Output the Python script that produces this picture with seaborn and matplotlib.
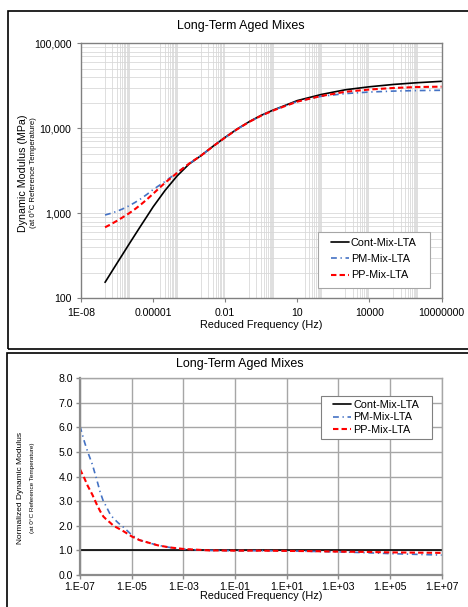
import matplotlib
matplotlib.use('Agg')
import matplotlib.pyplot as plt
from matplotlib.patches import Rectangle
from matplotlib.ticker import FixedLocator, NullFormatter
import seaborn as sns

# series names
series = ['Cont-Mix-LTA', 'PM-Mix-LTA', 'PP-Mix-LTA']

# dynamic modulus master curves (Hz, MPa)
freq_top = [1e-7, 1.78e-7, 3.16e-7, 5.62e-7, 1e-6, 1.78e-6, 3.16e-6, 5.62e-6, 1e-5,
            3.16e-5, 1e-4, 3.16e-4, 1e-3, 3.16e-3, 1e-2, 3.16e-2, 0.1, 0.316, 1,
            3.16, 10, 100, 1e3, 1e4, 1e5, 1e6, 1e7]
cont_mod = [154, 200, 259, 335, 434, 560, 721, 925, 1190,
            1862, 2754, 3802, 4786, 6166, 7834, 9817, 11967, 14223, 16406,
            18621, 21184, 25000, 28400, 30800, 32800, 34400, 35700]
pm_mod = [955, 1000, 1057, 1132, 1225, 1343, 1489, 1675, 1901,
          2371, 3020, 3846, 4786, 6150, 7820, 9780, 11900, 14100, 16300,
          18400, 20700, 23800, 25600, 26700, 27400, 27800, 28000]
pp_mod = [684, 745, 817, 902, 1000, 1122, 1274, 1462, 1698,
          2291, 2985, 3846, 4786, 6150, 7800, 9750, 11900, 14100, 16200,
          18300, 20600, 24000, 26900, 28600, 29800, 30600, 30900]

# normalized modulus (bottom chart)
freq_bot = [1e-7, 1.5e-7, 2e-7, 3e-7, 4.5e-7, 6e-7, 8e-7, 1e-6, 1.5e-6, 2e-6,
            3e-6, 5e-6, 1e-5, 2e-5, 5e-5, 1e-4, 3e-4, 1e-3, 1e-2, 1e-1, 1,
            10, 100, 1e3, 1e4, 1e5, 1e6, 1e7]
pm_norm = [6.05, 5.4, 5.0, 4.5, 3.86, 3.38, 3.0, 2.82, 2.45, 2.3,
           2.12, 1.93, 1.63, 1.42, 1.3, 1.21, 1.12, 1.05, 1.0, 0.99, 0.99,
           0.98, 0.96, 0.94, 0.91, 0.87, 0.84, 0.81]
pp_norm = [4.3, 3.92, 3.62, 3.27, 2.86, 2.6, 2.38, 2.28, 2.12, 2.0,
           1.9, 1.77, 1.57, 1.42, 1.3, 1.21, 1.12, 1.06, 1.0, 0.99, 0.99,
           0.98, 0.97, 0.95, 0.94, 0.92, 0.91, 0.9]
cont_norm_freq = [1e-7, 1e7]
cont_norm = [1.0, 1.0]

# tick labels
top_xticks = [1e-8, 1e-5, 1e-2, 10, 1e4, 1e7]
top_xlabels = ['1E-08', '0.00001', '0.01', '10', '10000', '10000000']
top_yticks = [100, 1000, 10000, 100000]
top_ylabels = ['100', '1,000', '10,000', '100,000']
bot_xticks = [1e-7, 1e-5, 1e-3, 1e-1, 10, 1e3, 1e5, 1e7]
bot_xlabels = ['1.E-07', '1.E-05', '1.E-03', '1.E-01', '1.E+01', '1.E+03', '1.E+05', '1.E+07']
bot_yticks = [0, 1, 2, 3, 4, 5, 6, 7, 8]
bot_ylabels = ['0.0', '1.0', '2.0', '3.0', '4.0', '5.0', '6.0', '7.0', '8.0']

sns.set_theme(style='white')
plt.rcParams['font.family'] = ['Liberation Sans', 'DejaVu Sans']
plt.rcParams['text.color'] = 'black'

W, H = 468, 607
fig = plt.figure(figsize=(W / 100, H / 100), dpi=100)
fig.patch.set_facecolor('white')


def box(l, t, r, b):
    return [l / W, 1 - b / H, (r - l) / W, (b - t) / H]


def ftext(x, y, s, **kw):
    fig.text(x / W, 1 - y / H, s, ha='center', va='center', **kw)


# panel frames
for (l, t, b) in [(8, 11, 348.5), (6.7, 353, 640)]:
    fig.add_artist(Rectangle((l / W, 1 - b / H), (490 - l) / W, (b - t) / H,
                             transform=fig.transFigure, fill=False,
                             ec='black', lw=1.2, clip_on=False))

styles = {
    'Cont-Mix-LTA': dict(color='black', lw=1.2, linestyle='-'),
    'PM-Mix-LTA': dict(color='#4472c4', lw=1.2, linestyle=(0, (3.5, 2.2, 0.8, 2.2))),
    'PP-Mix-LTA': dict(color='#ff0000', lw=1.5, linestyle=(0, (2.6, 1.5))),
}


def legend_box(ax, l, t, r, b, handle_x, mid_y, spacing, ec):
    # white framed box, then a frameless legend inside it
    ax.add_patch(Rectangle((l / W, 1 - b / H), (r - l) / W, (b - t) / H,
                           transform=fig.transFigure, fc='white', ec=ec,
                           lw=0.8, zorder=4, clip_on=False))
    leg = ax.legend(loc='center left', bbox_to_anchor=(handle_x / W, 1 - mid_y / H),
                    bbox_transform=fig.transFigure, fontsize=7.8, frameon=False,
                    handlelength=1.66, handletextpad=0.18, labelspacing=spacing,
                    borderpad=0, borderaxespad=0)
    leg.set_zorder(5)


# ---------------- top chart ----------------
ax1 = fig.add_axes(box(81, 43.3, 441.5, 298.3))
ax1.set_xscale('log')
ax1.set_yscale('log')
for name, vals in zip(series, [cont_mod, pm_mod, pp_mod]):
    sns.lineplot(x=freq_top, y=vals, ax=ax1, label=name, **styles[name])
ax1.set_xlim(1e-8, 1e7)
ax1.set_ylim(100, 100000)

ax1.xaxis.set_major_locator(FixedLocator(top_xticks))
ax1.set_xticklabels(top_xlabels)
ax1.yaxis.set_major_locator(FixedLocator(top_yticks))
ax1.set_yticklabels(top_ylabels)
vgrid = [k * 10.0 ** n for n in (-7, -5, -3, -1, 1, 3, 5) for k in range(1, 11)]
hgrid = [k * 10.0 ** n for n in (2, 3, 4) for k in range(1, 10)]
ax1.xaxis.set_minor_locator(FixedLocator(vgrid))
ax1.yaxis.set_minor_locator(FixedLocator(hgrid))
ax1.xaxis.set_minor_formatter(NullFormatter())
ax1.yaxis.set_minor_formatter(NullFormatter())
ax1.grid(which='minor', color='#d9d9d9', lw=0.6)
ax1.grid(which='major', axis='y', color='#d9d9d9', lw=0.6)
ax1.tick_params(which='minor', length=0)
ax1.tick_params(which='major', length=3, width=0.8, color='#808080',
                labelsize=7.6, labelcolor='black', pad=4)
ax1.tick_params(axis='both', which='major', bottom=True, left=True)
for sp in ax1.spines.values():
    sp.set_color('#808080')
    sp.set_linewidth(1.0)
ax1.set_xlabel('')
ax1.set_ylabel('')

ftext(241, 25.7, 'Long-Term Aged Mixes', fontsize=9)
ftext(261, 325, 'Reduced Frequency (Hz)', fontsize=7.8)
ftext(22.7, 173.7, 'Dynamic Modulus (MPa)', fontsize=7.7, rotation=90)
ftext(33.3, 173, '(at 0\u00b0C Reference Temperature)', fontsize=5.6, rotation=90)

legend_box(ax1, 318.3, 231.7, 430, 287.7, 331, 259, 0.6, '#a6a6a6')

# ---------------- bottom chart ----------------
ax2 = fig.add_axes(box(80, 378.3, 441.7, 575))
ax2.set_xscale('log')
sns.lineplot(x=cont_norm_freq, y=cont_norm, ax=ax2, label=series[0], **styles[series[0]])
for name, vals in zip(series[1:], [pm_norm, pp_norm]):
    sns.lineplot(x=freq_bot, y=vals, ax=ax2, label=name, **styles[name])
ax2.set_xlim(1e-7, 1e7)
ax2.set_ylim(0, 8)
ax2.xaxis.set_major_locator(FixedLocator(bot_xticks))
ax2.set_xticklabels(bot_xlabels)
ax2.yaxis.set_major_locator(FixedLocator(bot_yticks))
ax2.set_yticklabels(bot_ylabels)
ax2.xaxis.set_minor_locator(FixedLocator([]))
ax2.grid(which='major', color='#a6a6a6', lw=1.0)
ax2.tick_params(which='major', length=3, width=1.0, color='#8c8c8c',
                labelsize=7.6, labelcolor='black', pad=2)
ax2.tick_params(axis='both', which='major', bottom=True, left=True)
for sp in ax2.spines.values():
    sp.set_color('#a6a6a6')
    sp.set_linewidth(1.0)
ax2.spines['left'].set_color('#8c8c8c')
ax2.spines['left'].set_linewidth(1.6)
ax2.spines['bottom'].set_color('#8c8c8c')
ax2.spines['bottom'].set_linewidth(1.6)
ax2.set_xlabel('')
ax2.set_ylabel('')

ftext(240, 364, 'Long-Term Aged Mixes', fontsize=9)
ftext(261, 596, 'Reduced Frequency (Hz)', fontsize=7.8)
ftext(20.7, 488, 'Normalized Dynamic Modulus', fontsize=6.0, rotation=90)
ftext(32.3, 488, '(at 0\u00b0C Reference Temperature)', fontsize=4.6, rotation=90)

legend_box(ax2, 320.7, 395.7, 432.3, 439, 333.3, 417.3, 0.22, '#808080')

fig.savefig('out.png', dpi=100, facecolor='white')
